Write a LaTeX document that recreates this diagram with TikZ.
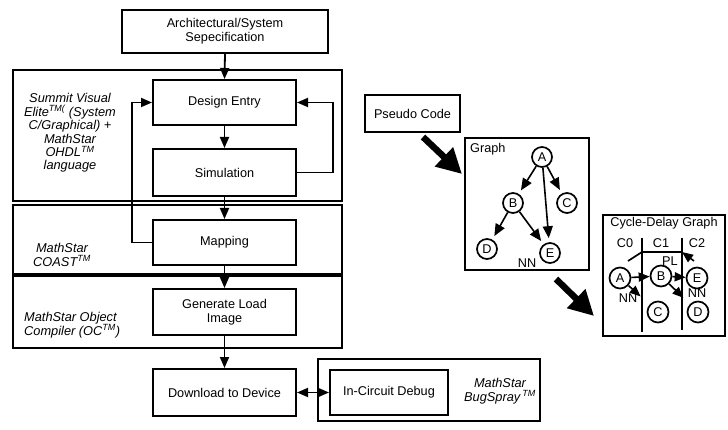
\documentclass[tikz,border=0pt]{standalone}
\usepackage{fontspec}
\setmainfont{Liberation Sans}
\usetikzlibrary{arrows.meta,calc}
\begin{document}
\begin{tikzpicture}[x=1pt,y=-1pt,
  every node/.style={font=\fontsize{12.7}{14}\selectfont},
  blk/.style={draw, line width=2pt, inner sep=0pt, align=center},
  grp/.style={draw, line width=2pt, inner sep=0pt},
  lbl/.style={font=\fontsize{12.8}{13.4}\selectfont\itshape, align=center, inner sep=0pt},
  arr/.style={line width=1.8pt, -{Triangle[length=11pt,width=9pt]}},
  darr/.style={line width=1.8pt, {Triangle[length=11pt,width=9pt]}-{Triangle[length=11pt,width=9pt]}},
  bigarr/.style={line width=6.5pt, -{Triangle[length=25pt,width=25pt]}},
  gnode/.style={circle, draw, line width=1.7pt, minimum size=20pt, inner sep=0pt},
  garr/.style={line width=1.6pt, -{Triangle[length=12pt,width=10pt]}, shorten >=4pt},
  carr/.style={line width=1.6pt, -{Triangle[length=11pt,width=9pt]}}
]
\useasboundingbox (0,0) rectangle (728,430);

% outer grouping boxes
\node[grp, minimum width=329pt, minimum height=131pt] (g1) at (177.5,135.5) {};
\node[grp, minimum width=329pt, minimum height=69pt] (g2) at (177.5,239.5) {};
\node[grp, minimum width=329pt, minimum height=72pt] (g3) at (177.5,312) {};
\node[grp, minimum width=222pt, minimum height=62pt] (g4) at (429,390) {};

% process boxes
\node[blk, minimum width=206pt, minimum height=43pt] (spec) at (225,31.5) {Architectural/System\\Sepecification};
\node[blk, minimum width=143pt, minimum height=45pt] (design) at (224.5,102.5) {Design Entry};
\node[blk, minimum width=143pt, minimum height=47pt] (sim) at (224.5,172.5) {Simulation};
\node[blk, minimum width=143pt, minimum height=45pt] (map) at (224.5,242.5) {Mapping};
\node[blk, minimum width=143pt, minimum height=46pt] (gen) at (224.5,312) {Generate Load\\Image};
\node[blk, minimum width=143pt, minimum height=47pt] (dl) at (224.5,392.5) {Download to Device};
\node[blk, minimum width=118pt, minimum height=45pt] (icd) at (389,392.5) {In-Circuit Debug};

% tool labels
\node[lbl] (t1) at (70,133) {Summit Visual\\Elite\textsuperscript{TM(} (System\\C/Graphical) +\\MathStar\\OHDL\textsuperscript{TM}\\language};
\node[lbl] (t2) at (62,255) {MathStar\\COAST\textsuperscript{TM}};
\node[lbl, anchor=west, align=left] (t3) at (24,325) {MathStar Object\\Compiler (OC\textsuperscript{TM})};
\node[lbl] (t4) at (500,391) {MathStar\\BugSpray\,\textsuperscript{TM}};

% flow arrows
\draw[arr] (spec.south) -- (design.north);
\draw[arr] (design.south) -- (sim.north);
\draw[arr] (sim.south) -- (map.north);
\draw[arr] (map.south) -- (gen.north);
\draw[arr] (gen.south) -- (dl.north);
\draw[arr] (sim.east) -- ++(36,0) |- (design.east);
\draw[arr] (map.west) -- ++(-20,0) |- (design.west);
\draw[darr] (dl.east) -- (icd.west);

% pseudo code and graph
\node[blk, minimum width=95pt, minimum height=37pt] (pc) at (412.5,113.5) {Pseudo Code};
\node[grp, minimum width=124pt, minimum height=132pt] (gb) at (527,204) {};
\node[anchor=west, inner sep=0pt] (gbl) at (470,149) {Graph};
\coordinate (pa) at (423,137);
\coordinate (pb) at (462,174);
\draw[bigarr] (pa) -- (pb);

\node[gnode] (A) at (542,157) {A};
\node[gnode] (B) at (513,203) {B};
\node[gnode] (C) at (567,203) {C};
\node[gnode] (D) at (487,249) {D};
\node[gnode] (E) at (550,253) {E};
\node[inner sep=0pt] (nn1) at (527,263) {NN};
\draw[garr] (A) -- (B);
\draw[garr] (A) -- (C);
\draw[garr] (A) -- (E);
\draw[garr] (B) -- (D);
\draw[garr] (B) -- (E);

\coordinate (qa) at (556,279);
\coordinate (qb) at (594,316);
\draw[bigarr] (qa) -- (qb);

% cycle-delay graph
\node[grp, minimum width=122pt, minimum height=121pt] (cd) at (664,275.5) {};
\node[inner sep=0pt] (cdt) at (664,223) {Cycle-Delay Graph};
\node[inner sep=0pt] (c0) at (625,243) {C0};
\node[inner sep=0pt] (c1) at (661,243) {C1};
\node[inner sep=0pt] (c2) at (697,243) {C2};
\coordinate (v1t) at (642,238); \coordinate (v1b) at (642,332);
\coordinate (v2t) at (682,238); \coordinate (v2b) at (682,330);
\draw[line width=1.7pt] (v1t) -- (v1b);
\draw[line width=1.7pt] (v2t) -- (v2b);
\coordinate (pl1) at (628,261);
\coordinate (pl2) at (642,252);
\coordinate (pl3) at (682,252);
\coordinate (pl4) at (694,261);
\draw[line width=1.7pt] (pl1) -- (pl2) -- (pl3);
\draw[carr] (pl4) -- (pl3);
\node[inner sep=0pt] (pl) at (670,261) {PL};

\node[gnode, minimum size=21pt] (cA) at (620,278) {A};
\node[gnode, minimum size=21pt] (cB) at (661,276) {B};
\node[gnode, minimum size=21pt] (cE) at (697,278) {E};
\node[gnode, minimum size=21pt] (cC) at (658,312) {C};
\node[gnode, minimum size=21pt] (cD) at (698,312) {D};
\draw[carr] (cA) -- (cB);
\draw[carr] (cB) -- (cE);
\draw[carr, shorten >=12pt] (cA) -- (cC);
\draw[carr, shorten >=9pt] (cB) -- (cD);
\node[inner sep=0pt] (nn2) at (628,298) {NN};
\node[inner sep=0pt] (nn3) at (697,293) {NN};
\end{tikzpicture}
\end{document}
